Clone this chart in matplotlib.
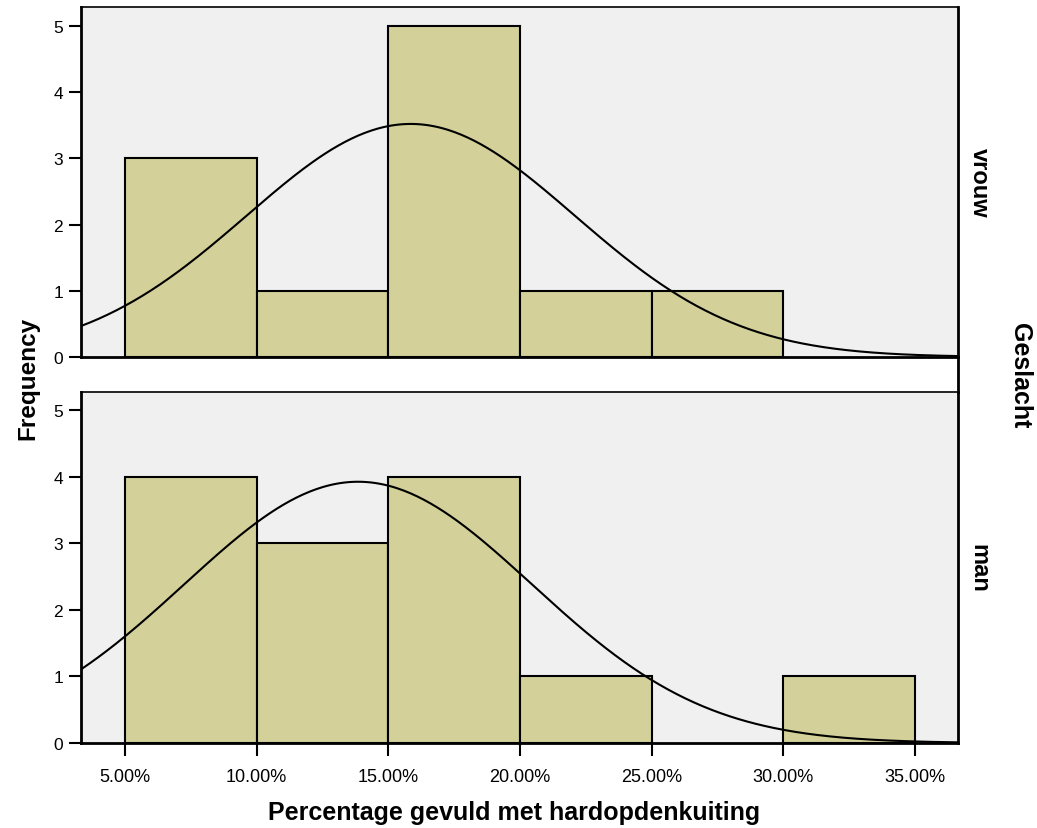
import numpy as np
import matplotlib
matplotlib.use('Agg')
import matplotlib.pyplot as plt
from matplotlib.lines import Line2D

plt.rcParams['font.family'] = ['Liberation Sans', 'DejaVu Sans']

# histogram bins (percent), counts per sex
bin_edges = [5, 10, 15, 20, 25, 30, 35]
vrouw_counts = [3, 1, 5, 1, 1, 0]
man_counts = [4, 3, 4, 1, 0, 1]

# normal curve parameters (mean, sd) per group
vrouw_mean, vrouw_sd = 15.85, 6.23
man_mean, man_sd = 13.85, 6.61

groups = ['vrouw', 'man']
x_ticks = [5, 10, 15, 20, 25, 30, 35]
x_ticklabels = ['5.00%', '10.00%', '15.00%', '20.00%', '25.00%', '30.00%', '35.00%']

bar_color = '#d3d09a'
panel_bg = '#f0f0f0'

fig = plt.figure(figsize=(10.37, 8.29), dpi=100)
ax_top = fig.add_axes([0.0781, 0.5682, 0.8457, 0.4222])
ax_bot = fig.add_axes([0.0781, 0.1025, 0.8457, 0.4234])

xmin, xmax = 3.33, 36.63
xs = np.linspace(xmin, xmax, 400)

panels = [
    (ax_top, vrouw_counts, vrouw_mean, vrouw_sd, groups[0], 5.29),
    (ax_bot, man_counts, man_mean, man_sd, groups[1], 5.27),
]

for ax, counts, mu, sd, name, ytop in panels:
    ax.set_facecolor(panel_bg)
    lefts = bin_edges[:-1]
    widths = np.diff(bin_edges)
    for left, w, c in zip(lefts, widths, counts):
        if c > 0:
            ax.bar(left, c, width=w, align='edge', color=bar_color,
                   edgecolor='black', linewidth=1.5, zorder=2)
    n = sum(counts)
    bw = bin_edges[1] - bin_edges[0]
    curve = n * bw / (sd * np.sqrt(2 * np.pi)) * np.exp(-0.5 * ((xs - mu) / sd) ** 2)
    ax.plot(xs, curve, color='black', linewidth=1.5, zorder=3)

    ax.set_xlim(xmin, xmax)
    ax.set_ylim(0, ytop)
    ax.set_yticks([0, 1, 2, 3, 4, 5])
    ax.tick_params(axis='y', length=9, width=1.5, pad=4, labelsize=12.5)
    for side in ['left', 'bottom', 'right']:
        ax.spines[side].set_linewidth(2)
    ax.spines['top'].set_linewidth(1.2)

    ax.text(1.011, 0.5, name, transform=ax.transAxes, rotation=-90,
            ha='left', va='center', fontsize=17, fontweight='bold')

ax_top.set_xticks([])
ax_bot.set_xticks(x_ticks)
ax_bot.set_xticklabels(x_ticklabels)
ax_bot.tick_params(axis='x', length=9, width=1.5, pad=9, labelsize=13)

# continuous right border through the gap between panels
fig.add_artist(Line2D([0.9238, 0.9238], [0.5234 + 0.0025, 0.5682],
                      transform=fig.transFigure, color='black', linewidth=2))

fig.text(0.496, 0.0193, 'Percentage gevuld met hardopdenkuiting', ha='center',
         va='center', fontsize=18, fontweight='bold')
fig.text(0.027, 0.543, 'Frequency', rotation=90, ha='center', va='center',
         fontsize=17.5, fontweight='bold')
fig.text(0.9836, 0.5464, 'Geslacht', rotation=-90, ha='center', va='center',
         fontsize=18, fontweight='bold')

fig.savefig('out.png', dpi=100)
